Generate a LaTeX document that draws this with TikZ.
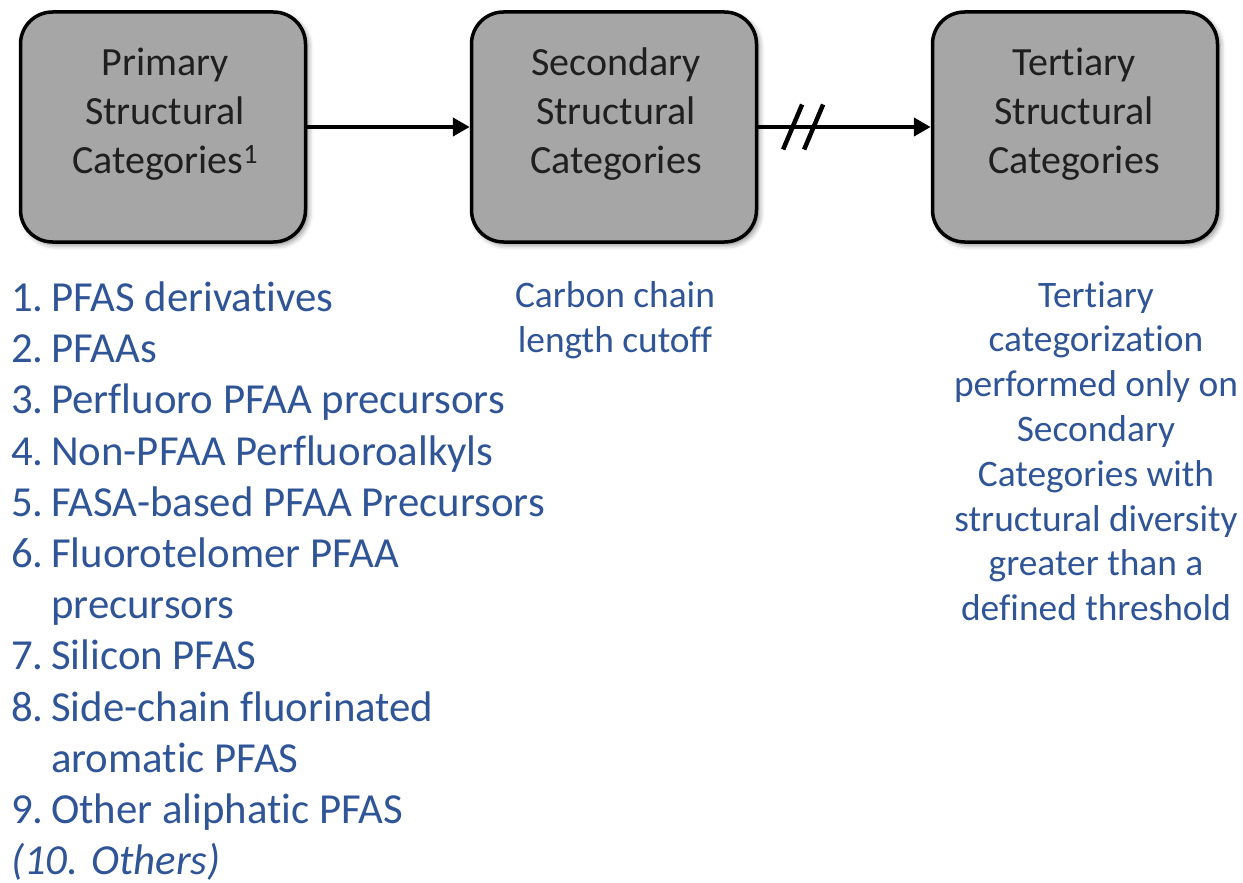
\documentclass[tikz,border=0pt]{standalone}
\usepackage{fontspec}
\setmainfont[Ligatures={NoCommon}]{Carlito}
\usetikzlibrary{arrows.meta,shadows.blur}
\definecolor{boxgray}{HTML}{A6A6A6}
\definecolor{txtblue}{HTML}{2F5597}
\tikzset{
  catbox/.style={draw=black, line width=3.5pt, fill=boxgray, rounded corners=32pt,
    minimum width=285pt, minimum height=230pt, inner sep=0pt,
    blur shadow={shadow xshift=3pt, shadow yshift=-3pt, shadow blur radius=5pt, shadow opacity=45}},
  boxtxt/.style={anchor=base, inner sep=0pt, font=\fontsize{40}{48}\selectfont, text=black!88},
  flow/.style={line width=4.5pt, -{Triangle[length=17pt,width=18pt]}},
  slash/.style={line width=4.5pt},
  item/.style={anchor=base west, inner sep=0pt, font=\fontsize{42.8}{51}\selectfont, text=txtblue},
  note/.style={anchor=base, inner sep=0pt, font=\fontsize{37.4}{45}\selectfont, text=txtblue},
}
\newcommand{\num}[1]{\makebox[40pt][l]{#1}}
\begin{document}
\begin{tikzpicture}[x=1pt,y=-1pt]
\useasboundingbox (0,0) rectangle (1243,883);

% the three category boxes
\node[catbox] (b1) at (163,127) {};
\node[catbox] (b2) at (614,127) {};
\node[catbox] (b3) at (1075,127) {};

% box captions
\node[boxtxt] (b1a) at (165,76) {Primary};
\node[boxtxt] (b1b) at (165,124.5) {Structural};
\node[boxtxt] (b1c) at (165,173) {Categories\textsuperscript{1}};
\node[boxtxt] (b2a) at (616,76) {Secondary};
\node[boxtxt] (b2b) at (616,124.5) {Structural};
\node[boxtxt] (b2c) at (616,173) {Categories};
\node[boxtxt] (b3a) at (1074,76) {Tertiary};
\node[boxtxt] (b3b) at (1074,124.5) {Structural};
\node[boxtxt] (b3c) at (1074,173) {Categories};

% connectors
\draw[flow] (b1) -- (b2);
\draw[flow] (b2) -- coordinate[pos=0.263] (brk) (b3);
\draw[slash] (brk) ++(-20.5,22.5) -- ++(19,-45);
\draw[slash] (brk) ++(0.5,22.5) -- ++(19,-45);

% primary category list
\node[item] (l1) at (11,311.5) {\num{1.}PFAS derivatives};
\node[item] (l2) at (11,362.7) {\num{2.}PFAAs};
\node[item] (l3) at (11,413.9) {\num{3.}Perfluoro PFAA precursors};
\node[item] (l4) at (11,465.1) {\num{4.}Non-PFAA Perfluoroalkyls};
\node[item] (l5) at (11,516.3) {\num{5.}FASA-based PFAA Precursors};
\node[item] (l6) at (11,567.5) {\num{6.}Fluorotelomer PFAA};
\node[item] (l6b) at (11,618.7) {\num{}precursors};
\node[item] (l7) at (11,669.9) {\num{7.}Silicon PFAS};
\node[item] (l8) at (11,721.1) {\num{8.}Side-chain fluorinated};
\node[item] (l8b) at (11,772.3) {\num{}aromatic PFAS};
\node[item] (l9) at (11,823.5) {\num{9.}Other aliphatic PFAS};
\node[item] (l10) at (11,874.7) {\itshape (10. Others)};

% secondary note
\node[note] (n2a) at (615,307) {Carbon chain};
\node[note] (n2b) at (615,352) {length cutoff};

% tertiary note
\node[note] (n3a) at (1096,307) {Tertiary};
\node[note] (n3b) at (1096,351.8) {categorization};
\node[note] (n3c) at (1096,396.6) {performed only on};
\node[note] (n3d) at (1096,441.4) {Secondary};
\node[note] (n3e) at (1096,486.2) {Categories with};
\node[note] (n3f) at (1096,531) {structural diversity};
\node[note] (n3g) at (1096,575.8) {greater than a};
\node[note] (n3h) at (1096,620.6) {defined threshold};
\end{tikzpicture}
\end{document}
